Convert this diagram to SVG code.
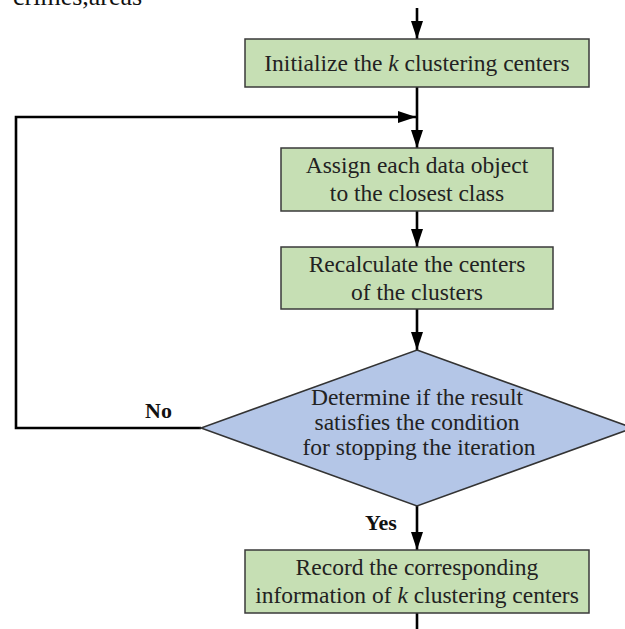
<svg xmlns="http://www.w3.org/2000/svg" width="625" height="629" viewBox="0 0 625 629">
<style>
.box{fill:#c6dfb4;stroke:#3a3a3a;stroke-width:1.5}
.dia{fill:#b4c6e7;stroke:#333;stroke-width:1.5}
.t{font-family:"Liberation Serif","Times New Roman",serif;font-size:23.5px;fill:#222;text-anchor:middle}
.lbl{font-family:"Liberation Serif","Times New Roman",serif;font-size:22px;font-weight:bold;fill:#111}
.ln{stroke:#000;stroke-width:2.6;fill:none}
</style>
<defs>
<marker id="ah" viewBox="0 0 18 12" refX="18" refY="6" markerWidth="18" markerHeight="12" markerUnits="userSpaceOnUse" orient="auto">
<path d="M0,0 L18,6 L0,12 Z" fill="#000"/>
</marker>
</defs>
<text x="13" y="5" style="font-family:'Liberation Serif','Times New Roman',serif;font-size:26px;fill:#111">crimes,areas</text>
<g id="connectors">
<line class="ln" x1="417" y1="8" x2="417" y2="39" marker-end="url(#ah)"/>
<line class="ln" x1="417" y1="87" x2="417" y2="148" marker-end="url(#ah)"/>
<polyline class="ln" points="201,428 16,428 16,117 416,117" marker-end="url(#ah)"/>
<line class="ln" x1="417" y1="211" x2="417" y2="247" marker-end="url(#ah)"/>
<line class="ln" x1="417" y1="309" x2="417" y2="350" marker-end="url(#ah)"/>
<line class="ln" x1="417" y1="506" x2="417" y2="550" marker-end="url(#ah)"/>
<line class="ln" x1="417" y1="613" x2="417" y2="629"/>
<text class="lbl" x="145" y="418">No</text>
<text class="lbl" x="365" y="530">Yes</text>
</g>
<g id="init">
<rect class="box" x="245" y="39" width="344" height="48"/>
<text class="t" x="417" y="71">Initialize the <tspan font-style="italic">k</tspan> clustering centers</text>
</g>
<g id="assign">
<rect class="box" x="281" y="148" width="272" height="63"/>
<text class="t" x="417" y="173">Assign each data object</text>
<text class="t" x="417" y="201">to the closest class</text>
</g>
<g id="recalc">
<rect class="box" x="281" y="247" width="272" height="62"/>
<text class="t" x="417" y="272">Recalculate the centers</text>
<text class="t" x="417" y="300">of the clusters</text>
</g>
<g id="decide">
<polygon class="dia" points="417,350 633,428 417,506 201,428"/>
<text class="t" x="417" y="405">Determine if the result</text>
<text class="t" x="417" y="430">satisfies the condition</text>
<text class="t" x="419" y="455">for stopping the iteration</text>
</g>
<g id="record">
<rect class="box" x="245" y="550" width="344" height="63"/>
<text class="t" x="417" y="575">Record the corresponding</text>
<text class="t" x="417" y="603">information of <tspan font-style="italic">k</tspan> clustering centers</text>
</g>
</svg>
